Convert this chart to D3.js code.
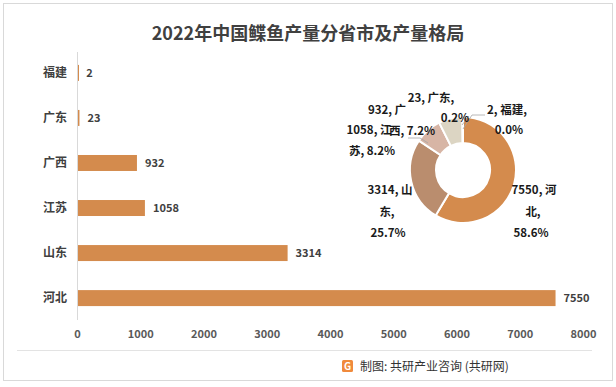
<!DOCTYPE html>
<html>
<head>
<meta charset="utf-8">
<script src="https://d3js.org/d3.v7.min.js"></script>
<style>
  body { margin: 0; background: #fff; }
  svg { font-family: "Noto Sans CJK SC", "Noto Sans", sans-serif; }
</style>
</head>
<body>
<div id="chart"></div>
<script>
// data
var provinces = ["福建", "广东", "广西", "江苏", "山东", "河北"];
var output = [2, 23, 932, 1058, 3314, 7550];
var xTicks = [0, 1000, 2000, 3000, 4000, 5000, 6000, 7000, 8000];
var pieOrder = ["河北", "山东", "江苏", "广西", "广东", "福建"];
var pieValues = [7550, 3314, 1058, 932, 23, 2];
var piePercent = ["58.6%", "25.7%", "8.2%", "7.2%", "0.2%", "0.0%"];
var pieColors = ["#D48B4D", "#BA8D6E", "#D7B5A5", "#DCD5C3", "#DCD5C3", "#D48B4D"];

var width = 616, height = 387;
var svg = d3.select("#chart").append("svg")
  .attr("width", width).attr("height", height);

// frame
svg.append("rect")
  .attr("x", 3.5).attr("y", 3.5)
  .attr("width", 609).attr("height", 377)
  .attr("fill", "#fff").attr("stroke", "#D9D9D9");

svg.append("text")
  .attr("x", 308).attr("y", 40)
  .attr("text-anchor", "middle")
  .style("font-size", "18px").style("font-weight", "bold")
  .attr("fill", "#404040")
  .text("2022年中国鲽鱼产量分省市及产量格局");

/* bar chart */
var x = d3.scaleLinear().domain([0, 8000]).range([77, 583]);
var y = d3.scaleBand().domain(provinces).range([50.5, 320.5]).paddingInner(0.645).paddingOuter(0.32);

svg.append("line")
  .attr("x1", x(0) + 0.5).attr("x2", x(0) + 0.5)
  .attr("y1", 52).attr("y2", 320)
  .attr("stroke", "#D9D9D9");

svg.append("g").selectAll("rect")
  .data(provinces).enter()
  .append("rect")
  .attr("x", x(0) + 1)
  .attr("y", d => y(d))
  .attr("width", (d, i) => Math.max(1, x(output[i]) - x(0)))
  .attr("height", y.bandwidth())
  .attr("fill", "#D48B4D");

svg.append("g").selectAll("text")
  .data(provinces).enter()
  .append("text")
  .attr("x", (d, i) => x(output[i]) + 9)
  .attr("y", d => y(d) + y.bandwidth() / 2)
  .attr("dy", "0.35em")
  .style("font-size", "11px").style("font-weight", "bold")
  .attr("fill", "#404040")
  .text((d, i) => output[i]);

var yAxis = d3.axisLeft(y).tickSize(0).tickPadding(10);
var gy = svg.append("g").attr("transform", "translate(" + x(0) + ",0)").call(yAxis);
gy.select(".domain").remove();
gy.selectAll("text")
  .style("font-size", "12px").style("font-weight", "bold")
  .style("font-family", "'Noto Sans CJK SC', sans-serif")
  .attr("fill", "#404040");

var xAxis = d3.axisBottom(x).tickValues(xTicks).tickFormat(d3.format("d")).tickSize(0).tickPadding(8);
var gx = svg.append("g").attr("transform", "translate(0,322)").call(xAxis);
gx.select(".domain").remove();
gx.selectAll("text")
  .style("font-size", "11px").style("font-weight", "bold")
  .style("font-family", "'Noto Sans CJK SC', sans-serif")
  .attr("fill", "#595959");

/* donut */
var cx = 463, cy = 170, rOut = 53, rIn = 27;
var pie = d3.pie().sort(null).value(d => d);
var arc = d3.arc().innerRadius(rIn).outerRadius(rOut);
var arcs = pie(pieValues);
var g = svg.append("g").attr("transform", "translate(" + cx + "," + cy + ")");
g.selectAll("path")
  .data(arcs).enter()
  .append("path")
  .attr("d", arc)
  .attr("fill", (d, i) => pieColors[i])
  .attr("stroke", "#fff")
  .attr("stroke-width", 2);

// label layout: wrapped lines and offsets from the donut centre
var labelLines = [
  [pieValues[0] + ", 河", "北,", piePercent[0]],
  [pieValues[1] + ", 山", "东,", piePercent[1]],
  [pieValues[2] + ", 江", "苏, " + piePercent[2]],
  [pieValues[3] + ", 广", "西, " + piePercent[3]],
  [pieValues[4] + ", 广东,", piePercent[4]],
  [pieValues[5] + ", 福建,", piePercent[5]]
];
var labelPos = [
  [[71, 20], [70, 42], [68, 63]],
  [[-73, 20], [-76, 42], [-75, 63]],
  [[-94, -40], [-91, -19]],
  [[-76, -60], [-51, -39]],
  [[-32, -72], [-8, -52]],
  [[44, -60], [46, -40]]
];

// leader lines
var leaders = [
  [[-55, -32], [-43, -32], [-35, -27]],
  [[22, -55], [9, -55], [0, -41]],
  [[6, -54], [-1, -45]]
];
var lineGen = d3.line();
g.selectAll(".leader")
  .data(leaders).enter()
  .append("path")
  .attr("class", "leader")
  .attr("d", d => lineGen(d))
  .attr("fill", "none")
  .attr("stroke", "#A6A6A6")
  .attr("stroke-width", 0.8);

labelLines.forEach(function(lines, i) {
  lines.forEach(function(t, j) {
    g.append("text")
      .attr("x", labelPos[i][j][0])
      .attr("y", labelPos[i][j][1])
      .attr("text-anchor", "middle")
      .attr("dy", "0.35em")
      .style("font-size", "11.5px").style("font-weight", "bold")
      .attr("fill", "#1a1a1a")
      .text(t);
  });
});

/* footer */
svg.append("line")
  .attr("x1", 17).attr("x2", 592)
  .attr("y1", 350.5).attr("y2", 350.5)
  .attr("stroke", "#E3E3E3");

var logo = svg.append("g").attr("transform", "translate(342,360)");
logo.append("rect").attr("width", 11).attr("height", 12).attr("rx", 1.5).attr("fill", "#F08A3C");
logo.append("text").attr("x", 5.5).attr("y", 10)
  .attr("text-anchor", "middle")
  .style("font-size", "10px").style("font-weight", "bold")
  .attr("fill", "#fff").text("G");

svg.append("text")
  .attr("x", 360).attr("y", 371)
  .style("font-size", "12px")
  .attr("fill", "#333")
  .text("制图: 共研产业咨询 (共研网)");
</script>
</body>
</html>
